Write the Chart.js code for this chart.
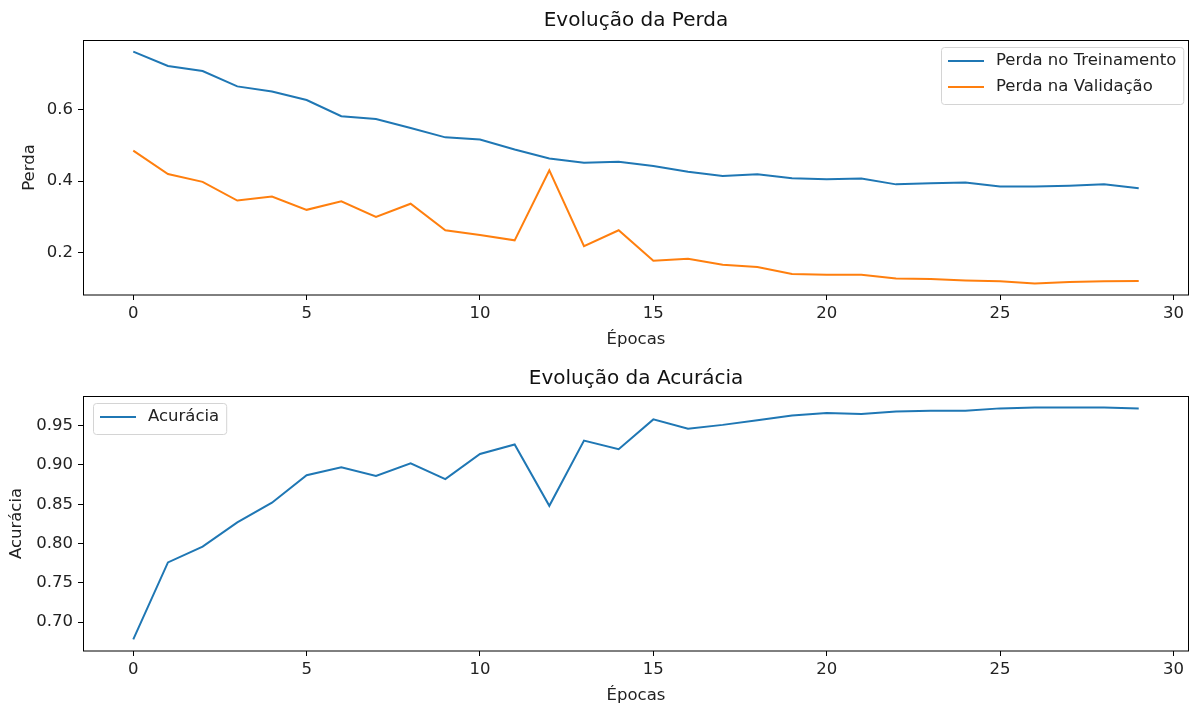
<!DOCTYPE html>
<html>
<head>
<meta charset="utf-8">
<script src="https://cdn.jsdelivr.net/npm/chart.js@4.4.1/dist/chart.umd.min.js"></script>
<style>
  html, body { margin: 0; padding: 0; background: #fff; overflow: hidden; }
  #wrap { position: relative; width: 1190px; height: 706px; }
  canvas { position: absolute; left: 0; }
</style>
</head>
<body>
<div id="wrap">
  <canvas id="lossChart" width="1190" height="353" style="top:0px"></canvas>
  <canvas id="accChart" width="1190" height="353" style="top:356px"></canvas>
</div>
<script>
const epochs = [0, 1, 2, 3, 4, 5, 6, 7, 8, 9, 10, 11, 12, 13, 14,
  15, 16, 17, 18, 19, 20, 21, 22, 23, 24, 25, 26, 27, 28, 29];
const trainLoss = [0.761, 0.721, 0.707, 0.664, 0.650, 0.626, 0.581, 0.573, 0.548, 0.522,
  0.516, 0.488, 0.463, 0.451, 0.454, 0.442, 0.426, 0.414, 0.419, 0.408,
  0.405, 0.407, 0.391, 0.394, 0.396, 0.385, 0.385, 0.387, 0.391, 0.380];
const valLoss = [0.485, 0.420, 0.398, 0.346, 0.357, 0.320, 0.344, 0.300, 0.337, 0.263,
  0.250, 0.235, 0.430, 0.219, 0.263, 0.178, 0.184, 0.167, 0.161, 0.141,
  0.139, 0.139, 0.129, 0.127, 0.123, 0.121, 0.115, 0.119, 0.121, 0.122];
const accuracy = [0.678, 0.776, 0.796, 0.827, 0.852, 0.887, 0.897, 0.886, 0.902, 0.882,
  0.914, 0.926, 0.848, 0.931, 0.920, 0.958, 0.946, 0.951, 0.957, 0.963,
  0.966, 0.965, 0.968, 0.969, 0.969, 0.972, 0.973, 0.973, 0.973, 0.972];
const epochTicks = [0, 5, 10, 15, 20, 25, 30];
const lossTicks = [0.2, 0.4, 0.6];
const accTicks = [0.70, 0.75, 0.80, 0.85, 0.90, 0.95];

const FONT = '"DejaVu Sans", sans-serif';
const TXT = 16.5;
const BLUE = '#1f77b4';
const ORANGE = '#ff7f0e';

// matplotlib style: 5% margin around the data
function limits(values) {
  const lo = Math.min(...values), hi = Math.max(...values);
  const m = (hi - lo) * 0.05;
  return [lo - m, hi + m];
}

const framePlugin = {
  id: 'frame',
  afterDatasetsDraw(chart) {
    const { ctx, chartArea: a } = chart;
    ctx.save();
    ctx.strokeStyle = '#000';
    ctx.lineWidth = 1;
    const l = Math.round(a.left) + 0.5, t = Math.round(a.top) + 0.5;
    ctx.strokeRect(l, t, Math.round(a.right) - l - 0.5, Math.round(a.bottom) - t);
    ctx.restore();
  }
};

const boxLegend = {
  id: 'boxLegend',
  afterDraw(chart, args, opts) {
    const { ctx, chartArea: a } = chart;
    const sets = chart.data.datasets.filter(d => d.label);
    ctx.save();
    ctx.font = TXT + 'px ' + FONT;
    const textW = Math.max(...sets.map(d => ctx.measureText(d.label).width));
    const w = 7 + 36 + 12 + textW + 7;
    const h = 14 + 26 * (sets.length - 1) + 17;
    const x = Math.round(opts.corner === 'left' ? a.left + 10 : a.right - 6 - w);
    const y = Math.round(a.top + 7);
    ctx.fillStyle = 'rgba(255,255,255,0.8)';
    ctx.strokeStyle = '#d4d4d4';
    ctx.lineWidth = 1;
    ctx.beginPath();
    ctx.roundRect(x + 0.5, y + 0.5, w, h, 3);
    ctx.fill();
    ctx.stroke();
    sets.forEach((d, i) => {
      const cy = y + 14 + 26 * i;
      ctx.strokeStyle = d.borderColor;
      ctx.lineWidth = 2;
      ctx.beginPath();
      ctx.moveTo(x + 7, cy);
      ctx.lineTo(x + 43, cy);
      ctx.stroke();
      ctx.fillStyle = '#222';
      ctx.textBaseline = 'middle';
      ctx.fillText(d.label, x + 55, cy);
    });
    ctx.restore();
  }
};

function makeChart(id, cfg) {
  const [yMin, yMax] = limits(cfg.datasets.flatMap(d => d.values));
  return new Chart(document.getElementById(id), {
    type: 'line',
    data: {
      datasets: cfg.datasets.map(d => ({
        label: d.label,
        data: epochs.map((e, i) => ({ x: e, y: d.values[i] })),
        borderColor: d.color,
        backgroundColor: d.color,
        borderWidth: 2,
        pointRadius: 0,
        tension: 0,
      })),
    },
    options: {
      responsive: false,
      animation: false,
      layout: { padding: { left: 0, right: 1, top: 0, bottom: 0 } },
      plugins: {
        legend: { display: false },
        tooltip: { enabled: false },
        boxLegend: { corner: cfg.legendCorner },
      },
      scales: {
        // top axis only carries the title, so it is centred over the plot area
        top: {
          type: 'linear',
          position: 'top',
          min: -1.45,
          max: 30.45,
          afterFit: s => { s.height = 40; },
          grid: { display: false },
          border: { display: false },
          ticks: { display: false },
          title: {
            display: true,
            text: cfg.title,
            color: '#111',
            font: { family: FONT, size: 20 },
            padding: { top: cfg.titleTop, bottom: 0 },
          },
        },
        x: {
          type: 'linear',
          position: 'bottom',
          min: -1.45,
          max: 30.45,
          afterFit: s => { s.height = 58; },
          afterBuildTicks: s => { s.ticks = epochTicks.map(v => ({ value: v })); },
          grid: { drawOnChartArea: false, drawTicks: true, tickLength: 5, color: '#000' },
          border: { display: false },
          ticks: { color: '#222', font: { family: FONT, size: TXT }, padding: 4, maxRotation: 0 },
          title: {
            display: true,
            text: 'Épocas',
            color: '#222',
            font: { family: FONT, size: TXT },
            padding: { top: 0, bottom: 3 },
          },
        },
        y: {
          min: yMin,
          max: yMax,
          afterFit: s => { s.width = 83; },
          afterBuildTicks: s => { s.ticks = cfg.yTicks.map(v => ({ value: v })); },
          grid: { drawOnChartArea: false, drawTicks: true, tickLength: 5, color: '#000' },
          border: { display: false },
          ticks: {
            color: '#222',
            font: { family: FONT, size: TXT },
            padding: 5,
            callback: v => v.toFixed(cfg.decimals),
          },
          title: {
            display: true,
            text: cfg.yTitle,
            color: '#222',
            font: { family: FONT, size: TXT },
            padding: { top: cfg.yTitlePad, bottom: 0 },
          },
        },
      },
    },
    plugins: [framePlugin, boxLegend],
  });
}

makeChart('lossChart', {
  title: 'Evolução da Perda',
  titleTop: 9,
  yTitle: 'Perda',
  yTitlePad: 20,
  yTicks: lossTicks,
  decimals: 1,
  legendCorner: 'right',
  datasets: [
    { label: 'Perda no Treinamento', values: trainLoss, color: BLUE },
    { label: 'Perda na Validação', values: valLoss, color: ORANGE },
  ],
});

makeChart('accChart', {
  title: 'Evolução da Acurácia',
  titleTop: 11,
  yTitle: 'Acurácia',
  yTitlePad: 7,
  yTicks: accTicks,
  decimals: 2,
  legendCorner: 'left',
  datasets: [
    { label: 'Acurácia', values: accuracy, color: BLUE },
  ],
});
</script>
</body>
</html>
